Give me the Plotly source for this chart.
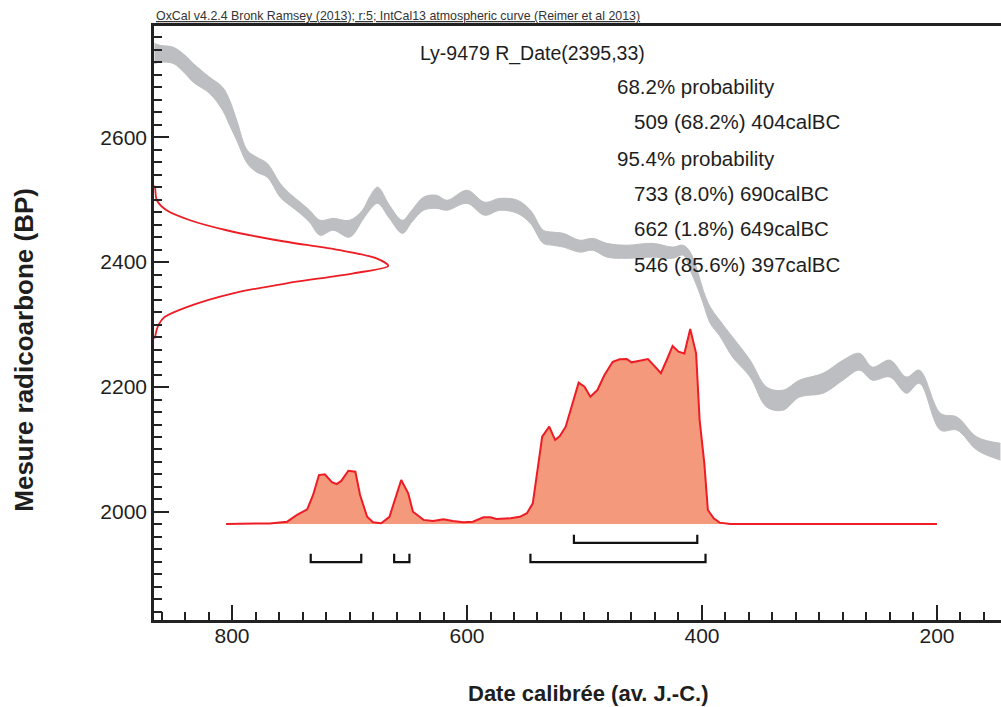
import plotly.graph_objects as go

# ---------------- data ----------------
# IntCal13 calibration band (cal BC, upper/lower BP edges)
curve_bc = [866, 861, 850, 840, 833, 819, 808, 802, 796, 787, 779, 770, 759, 751, 742,
            734, 725, 714, 700, 689, 683, 676, 666, 655, 647, 637, 626, 617, 600, 585,
            572, 557, 546, 535, 527, 518, 504, 493, 481, 464, 442, 425, 416, 410, 404,
            399, 393, 385, 374, 359, 345, 331, 317, 297, 280, 266, 255, 240, 226, 215,
            197, 183, 166, 146]
curve_hi = [2750, 2747, 2744, 2731, 2718, 2696, 2680, 2659, 2627, 2579, 2568, 2558, 2526, 2510, 2496,
            2483, 2467, 2470, 2467, 2483, 2504, 2520, 2491, 2467, 2483, 2504, 2507, 2499, 2515, 2496,
            2502, 2499, 2483, 2451, 2448, 2446, 2435, 2438, 2430, 2427, 2430, 2424, 2427, 2416, 2387,
            2355, 2328, 2307, 2280, 2243, 2200, 2195, 2211, 2222, 2243, 2254, 2232, 2243, 2216, 2227,
            2158, 2152, 2120, 2110]
curve_lo = [2718, 2720, 2718, 2702, 2688, 2670, 2643, 2619, 2595, 2558, 2544, 2536, 2504, 2491, 2478,
            2464, 2443, 2451, 2440, 2467, 2483, 2494, 2470, 2446, 2464, 2483, 2486, 2483, 2494, 2475,
            2483, 2478, 2462, 2430, 2427, 2424, 2416, 2419, 2408, 2406, 2408, 2406, 2411, 2387, 2360,
            2334, 2302, 2282, 2248, 2216, 2168, 2163, 2184, 2190, 2211, 2227, 2211, 2216, 2190, 2206,
            2131, 2131, 2099, 2083]

# Radiocarbon measurement R_Date(2395,33): BP vs relative density
rdate_bp = [2522, 2520, 2499, 2483, 2467, 2451, 2435, 2419, 2406, 2394, 2382, 2366, 2350,
            2328, 2312, 2300, 2291, 2280, 2278]
rdate_p = [0.0, 0.004, 0.012, 0.054, 0.154, 0.31, 0.524, 0.794, 0.95, 1.0, 0.851, 0.566, 0.337,
           0.14, 0.045, 0.02, 0.011, 0.004, 0.0]

# Calibrated probability distribution (cal BC, relative probability)
cal_bc = [805, 768, 753, 745, 736, 731, 726, 721, 715, 711, 707, 701, 695, 691, 685, 680,
          673, 666, 656, 650, 646, 637, 629, 620, 612, 603, 595, 586, 580, 575, 563, 555,
          549, 544, 536, 530, 525, 521, 516, 505, 500, 495, 489, 483, 476, 470, 464, 460,
          453, 446, 440, 435, 430, 425, 420, 415, 410, 405, 402, 398, 395, 390, 385, 376, 200]
cal_p = [0.0, 0.003, 0.012, 0.046, 0.075, 0.149, 0.251, 0.255, 0.214, 0.205, 0.221, 0.273,
         0.268, 0.149, 0.037, 0.009, 0.004, 0.037, 0.226, 0.157, 0.063, 0.021, 0.015, 0.024,
         0.015, 0.009, 0.012, 0.034, 0.034, 0.026, 0.029, 0.037, 0.055, 0.106, 0.448, 0.499,
         0.431, 0.451, 0.499, 0.725, 0.704, 0.653, 0.687, 0.764, 0.832, 0.845, 0.846, 0.829,
         0.837, 0.846, 0.807, 0.773, 0.841, 0.913, 0.884, 0.875, 1.0, 0.875, 0.533, 0.311,
         0.072, 0.029, 0.007, 0.0, 0.0]

# Probability ranges (cal BC from, %, cal BC to)
range68 = [(509, 68.2, 404)]
range95 = [(733, 8.0, 690), (662, 1.8, 649), (546, 85.6, 397)]

x_ticks = [800, 600, 400, 200]
y_ticks = [2000, 2200, 2400, 2600]

header = "OxCal v4.2.4 Bronk Ramsey (2013); r:5; IntCal13 atmospheric curve (Reimer et al 2013)"
title = "Ly-9479 R_Date(2395,33)"

# ---------------- styles ----------------
FONT = "Liberation Sans, Arial, Helvetica, sans-serif"
TXT = "#1e1e1e"
RED = "#EE1C24"
FILL = "#F4997B"
GREY = "#BCBEC1"

fig = go.Figure()

# calibration curve band
fig.add_trace(go.Scatter(x=curve_bc, y=curve_lo, mode="lines", line=dict(color=GREY, width=1),
                         line_shape="spline", hoverinfo="skip", showlegend=False))
fig.add_trace(go.Scatter(x=curve_bc, y=curve_hi, mode="lines", line=dict(color=GREY, width=1),
                         line_shape="spline", fill="tonexty", fillcolor=GREY,
                         hoverinfo="skip", showlegend=False))

# radiocarbon date gaussian on left axis
fig.add_trace(go.Scatter(x=rdate_p, y=rdate_bp, xaxis="x2", yaxis="y", mode="lines",
                         line=dict(color=RED, width=1.8, shape="spline", smoothing=0.8),
                         showlegend=False, hoverinfo="skip"))

# calibrated distribution
fig.add_trace(go.Scatter(x=cal_bc, y=cal_p, xaxis="x", yaxis="y2", mode="lines",
                         line=dict(color=RED, width=2), fill="tozeroy", fillcolor=FILL,
                         showlegend=False, hoverinfo="skip"))

# range brackets (in probability-axis units below the baseline)
def bracket_trace(ranges, level, tick):
    xs, ys = [], []
    for a, _, b in ranges:
        xs += [a, a, b, b, None]
        ys += [level + tick, level, level, level + tick, None]
    return go.Scatter(x=xs, y=ys, xaxis="x", yaxis="y2", mode="lines",
                      line=dict(color="#111111", width=2.2), showlegend=False, hoverinfo="skip")

fig.add_trace(bracket_trace(range68, -0.097, 0.042))
fig.add_trace(bracket_trace(range95, -0.195, 0.042))

# ---------------- annotations ----------------
ann = []
ann.append(dict(text='<span style="text-decoration:underline">' + header + '</span>',
                x=0.0, y=1.017, xref="paper", yref="paper", xanchor="left",
                yanchor="middle", showarrow=False, font=dict(family=FONT, size=12.4, color="#333")))
ann.append(dict(text=title, x=0.3117, y=0.9545, xref="paper", yref="paper", xanchor="left",
                yanchor="middle", showarrow=False, font=dict(family=FONT, size=19.5, color=TXT)))
lines = [("68.2% probability", False)]
lines += [(f"{a} ({p:.1f}%) {b}calBC", True) for a, p, b in range68]
lines += [("95.4% probability", False)]
lines += [(f"{a} ({p:.1f}%) {b}calBC", True) for a, p, b in range95]
ys = [0.8978, 0.8389, 0.7773, 0.7184, 0.6594, 0.5993]
for (t, indent), yy in zip(lines, ys):
    ann.append(dict(text=t, x=0.5643 if indent else 0.5443, y=yy, xref="paper", yref="paper",
                    xanchor="left", yanchor="middle", showarrow=False,
                    font=dict(family=FONT, size=20.5, color=TXT)))
ann.append(dict(text="<b>Date calibrée (av. J.-C.)</b>", x=0.5124, y=-0.123, xref="paper",
                yref="paper", xanchor="center", yanchor="middle", showarrow=False,
                font=dict(family=FONT, size=22, color=TXT)))
ann.append(dict(text="<b>Mesure radicoarbone (BP)</b>", x=-0.1535, y=0.455, xref="paper",
                yref="paper", xanchor="center", yanchor="middle", showarrow=False, textangle=-90,
                font=dict(family=FONT, size=26, color=TXT)))

fig.update_layout(
    width=1001, height=707,
    margin=dict(l=154, r=0, t=26, b=87),
    paper_bgcolor="white", plot_bgcolor="white",
    annotations=ann,
    xaxis=dict(range=[866.4, 145.5], tickvals=x_ticks, ticks="inside", ticklen=15, tickwidth=2,
               tickcolor="#222", showline=True, linewidth=2.5, linecolor="#222", mirror=True,
               showgrid=False, zeroline=False, ticklabelstandoff=-5,
               minor=dict(dtick=20, tick0=0, ticks="inside", ticklen=8, tickwidth=1.5,
                          tickcolor="#222", showgrid=False),
               tickfont=dict(family=FONT, size=21, color=TXT)),
    yaxis=dict(range=[1827, 2778], tickvals=y_ticks, ticks="inside", ticklen=15, tickwidth=2,
               tickcolor="#222", showline=True, linewidth=2.5, linecolor="#222", mirror=False,
               showgrid=False, zeroline=False,
               minor=dict(dtick=20, tick0=0, ticks="inside", ticklen=8, tickwidth=1.5,
                          tickcolor="#222", showgrid=False),
               tickfont=dict(family=FONT, size=21, color=TXT)),
    xaxis2=dict(range=[0, 3.615], overlaying="x", visible=False),
    yaxis2=dict(range=[-0.4923, 2.5538], overlaying="y", visible=False),
)

fig.write_html("out.html", config={"displayModeBar": False},
               post_script="document.body.style.margin='0';document.body.style.overflow='hidden';")
